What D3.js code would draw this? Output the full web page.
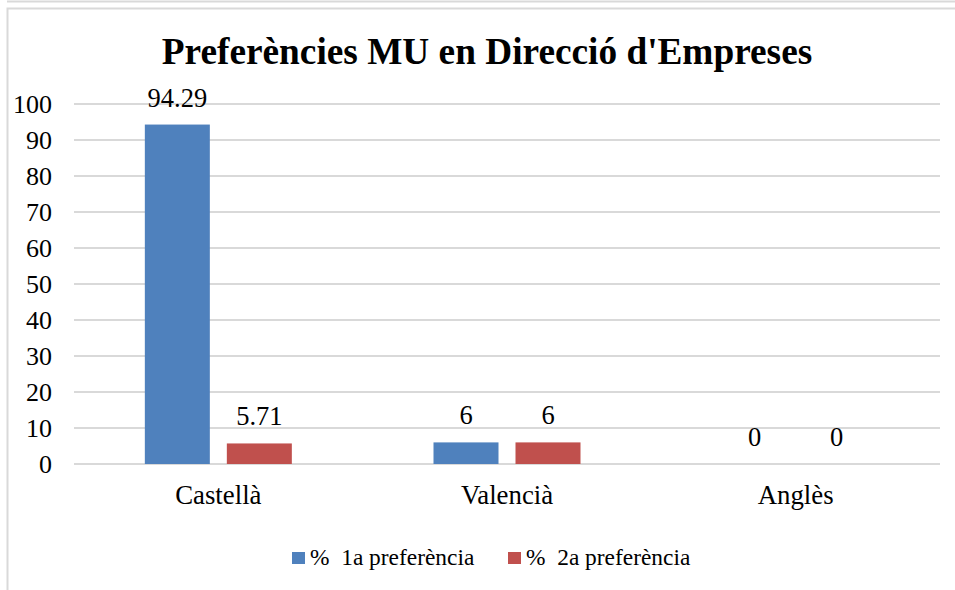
<!DOCTYPE html>
<html>
<head>
<script src="https://d3js.org/d3.v7.min.js"></script>
</head>
<body style="margin:0; background:#fff">
<svg id="chart" width="955" height="590"></svg>
<script>
// data
var categories = ["Castellà", "Valencià", "Anglès"];
var seriesNames = ["% 1a preferència", "% 2a preferència"];
var first = [94.29, 6, 0];
var second = [5.71, 6, 0];
var yTicks = [0, 10, 20, 30, 40, 50, 60, 70, 80, 90, 100];
var colors = ["#4f81bd", "#c0504d"];

var FONT = "'Liberation Serif', 'Times New Roman', serif";
var svg = d3.select("#chart");

// chart frame
svg.append("line").attr("x1", 7).attr("x2", 955).attr("y1", 1.5).attr("y2", 1.5)
  .style("stroke", "#d9d9d9").style("stroke-width", 2);
svg.append("path").attr("d", "M7.5,590 V8.5 H955")
  .style("fill", "none").style("stroke", "#d9d9d9").style("stroke-width", 2);

var x = d3.scaleBand().domain(categories).range([74, 940]);
var y = d3.scaleLinear().domain([0, 100]).range([464, 104]);
var barW = 65, gap = 17;

// gridlines
svg.append("g").selectAll("line").data(yTicks).enter().append("line")
  .attr("x1", 74).attr("x2", 940)
  .attr("y1", function(d){ return y(d) }).attr("y2", function(d){ return y(d) })
  .style("stroke", "#d9d9d9").style("stroke-width", 2);

// y tick labels
svg.append("g").selectAll("text").data(yTicks).enter().append("text")
  .attr("x", 52).attr("y", function(d){ return y(d) + 9 })
  .attr("text-anchor", "end")
  .attr("font-family", FONT).style("font-size", "26px")
  .text(function(d){ return d });

// bars + value labels
var series = [first, second];
series.forEach(function(vals, si){
  var g = svg.append("g");
  var xpos = function(d, i){
    var c = x(categories[i]) + x.bandwidth() / 2 - (barW * 2 + gap) / 2;
    return c + si * (barW + gap);
  };
  g.selectAll("rect").data(vals).enter().append("rect")
    .attr("x", xpos)
    .attr("y", function(d){ return y(d) })
    .attr("width", barW)
    .attr("height", function(d){ return y(0) - y(d) })
    .style("fill", colors[si]);
  g.selectAll("text").data(vals).enter().append("text")
    .attr("x", function(d, i){ return xpos(d, i) + barW / 2 })
    .attr("y", function(d){ return y(d) - 18 })
    .attr("text-anchor", "middle")
    .attr("font-family", FONT).style("font-size", "26.5px")
    .text(function(d){ return d });
});

// category labels
svg.append("g").selectAll("text").data(categories).enter().append("text")
  .attr("x", function(d){ return x(d) + x.bandwidth() / 2 })
  .attr("y", 504)
  .attr("text-anchor", "middle")
  .attr("font-family", FONT).style("font-size", "26.8px")
  .text(function(d){ return d });

// title
svg.append("text").attr("x", 487).attr("y", 64)
  .attr("text-anchor", "middle")
  .attr("font-family", FONT)
  .style("font-size", "37.3px").style("font-weight", "bold")
  .text("Preferències MU en Direcció d'Empreses");

// legend
var legX = [292, 508];
seriesNames.forEach(function(name, i){
  svg.append("rect").attr("x", legX[i]).attr("y", 552).attr("width", 13).attr("height", 12)
    .style("fill", colors[i]);
  svg.append("text").attr("x", legX[i] + 18).attr("y", 565)
    .attr("font-family", FONT)
    .style("font-size", "23.4px").style("white-space", "pre")
    .text(name.replace("% ", "%  "));
});
</script>
</body>
</html>
